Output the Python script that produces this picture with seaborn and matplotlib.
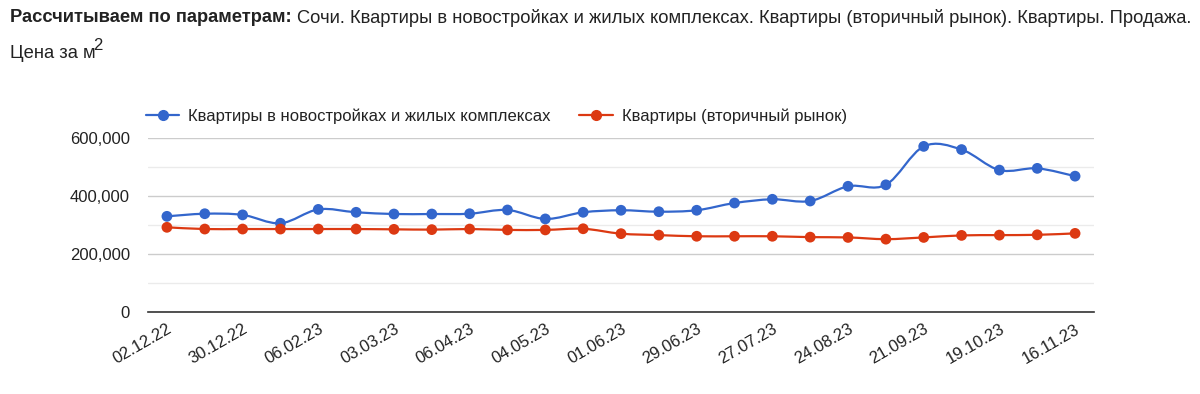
import matplotlib
matplotlib.use("Agg")
import matplotlib.pyplot as plt
import seaborn as sns
import numpy as np
import pandas as pd
from matplotlib.path import Path
from matplotlib.patches import PathPatch
from matplotlib.lines import Line2D
from matplotlib.ticker import FuncFormatter, MultipleLocator

dates = ["02.12.22", "16.12.22", "30.12.22", "13.01.23", "06.02.23", "17.02.23", "03.03.23",
         "17.03.23", "06.04.23", "20.04.23", "04.05.23", "18.05.23", "01.06.23", "15.06.23",
         "29.06.23", "13.07.23", "27.07.23", "10.08.23", "24.08.23", "07.09.23", "21.09.23",
         "05.10.23", "19.10.23", "02.11.23", "16.11.23"]
tick_labels = ["02.12.22", "30.12.22", "06.02.23", "03.03.23", "06.04.23", "04.05.23", "01.06.23",
               "29.06.23", "27.07.23", "24.08.23", "21.09.23", "19.10.23", "16.11.23"]
new_build = [330000, 339000, 335000, 306000, 354000, 344000, 338000, 338000, 339000, 352000,
             321000, 344000, 351000, 346000, 351000, 376000, 389000, 383000, 434000, 439000,
             572000, 561000, 490000, 496000, 469000]
secondary = [292000, 286000, 286000, 286000, 286000, 286000, 285000, 284000, 286000, 283000,
             283000, 287000, 270000, 265000, 261000, 261000, 261000, 258000, 257000, 251000,
             257000, 264000, 265000, 266000, 271000]
series_names = ["Квартиры в новостройках и жилых комплексах", "Квартиры (вторичный рынок)"]
colors = ["#3366cc", "#dc3912"]

df = pd.DataFrame({
    "idx": list(range(len(dates))) * 2,
    "value": new_build + secondary,
    "series": [series_names[0]] * len(dates) + [series_names[1]] * len(dates),
})

sns.set_theme(style="white")
plt.rcParams['font.family'] = ['Liberation Sans', 'DejaVu Sans']

fig = plt.figure(figsize=(12, 3.94), dpi=100)
ax = fig.add_axes([148/1200, 1 - 311.7/394, (1094-148)/1200, (311.7-138.3)/394])


def smooth_path(xs, ys):
    n = len(xs)
    verts = [(xs[0], ys[0])]
    codes = [Path.MOVETO]
    for i in range(n - 1):
        x0, y0 = (xs[i-1], ys[i-1]) if i > 0 else (xs[i], ys[i])
        x3, y3 = (xs[i+2], ys[i+2]) if i + 2 < n else (xs[i+1], ys[i+1])
        c1 = (xs[i] + (xs[i+1] - x0) / 6, ys[i] + (ys[i+1] - y0) / 6)
        c2 = (xs[i+1] - (x3 - xs[i]) / 6, ys[i+1] - (y3 - ys[i]) / 6)
        verts += [c1, c2, (xs[i+1], ys[i+1])]
        codes += [Path.CURVE4] * 3
    return Path(verts, codes)


for name, col in zip(series_names, colors):
    sub = df[df.series == name]
    p = smooth_path(sub.idx.tolist(), sub.value.tolist())
    ax.add_patch(PathPatch(p, facecolor="none", edgecolor=col, lw=1.6, zorder=3,
                           capstyle="round", joinstyle="round"))

sns.scatterplot(data=df, x="idx", y="value", hue="series", palette=colors, s=60,
                edgecolor="none", legend=False, ax=ax, zorder=4)

ax.set_xlim(-0.5, len(dates) - 0.5)
ax.set_ylim(0, 600000)
ax.yaxis.set_major_locator(MultipleLocator(200000))
ax.yaxis.set_minor_locator(MultipleLocator(100000))
ax.yaxis.set_major_formatter(FuncFormatter(lambda v, p: f"{v:,.0f}"))
ax.grid(True, which="major", axis="y", color="#cccccc", lw=1.0)
ax.grid(True, which="minor", axis="y", color="#ebebeb", lw=1.0)
ax.set_axisbelow(True)
for s in ["top", "right", "left"]:
    ax.spines[s].set_visible(False)
ax.spines["bottom"].set_color("#333333")
ax.spines["bottom"].set_linewidth(1.2)
ax.set_xlabel("")
ax.set_ylabel("")
ax.tick_params(axis="y", which="both", length=0, pad=13, labelsize=12, labelcolor="#222222")
ax.tick_params(axis="x", length=0, pad=7, labelsize=12, labelcolor="#222222")
ax.set_xticks(list(range(0, len(dates), 2)))
ax.set_xticklabels(tick_labels, rotation=30, ha="right", rotation_mode="anchor")

handles = [Line2D([0], [0], color=c, lw=1.6, marker="o", markersize=7) for c in colors]
fig.legend(handles, series_names, loc="center left", bbox_to_anchor=(146/1200, 1 - 116/394),
           ncol=2, frameon=False, fontsize=12, handlelength=2.0, handletextpad=0.55,
           columnspacing=1.7, borderpad=0, borderaxespad=0, labelcolor="#222222")

t1 = fig.text(10/1200, 1 - 18/394, "Рассчитываем по параметрам:", fontsize=13.2, fontweight="bold",
              color="#222222", va="center", ha="left")
fig.canvas.draw()
renderer = fig.canvas.get_renderer()
bb = t1.get_window_extent(renderer=renderer)
x_next = (bb.x1 + 5) / fig.bbox.width
fig.text(x_next, 1 - 18/394,
         "Сочи. Квартиры в новостройках и жилых комплексах. Квартиры (вторичный рынок). Квартиры. Продажа.",
         fontsize=13.2, color="#222222", va="center", ha="left")
t3 = fig.text(10/1200, 1 - 54/394, "Цена за м", fontsize=13.2, color="#222222", va="center", ha="left")
fig.canvas.draw()
bb3 = t3.get_window_extent(renderer=renderer)
fig.text((bb3.x1 - 2) / fig.bbox.width, 1 - 46/394, "2", fontsize=12, color="#222222",
         va="center", ha="left")

fig.savefig("out.png", dpi=100)
